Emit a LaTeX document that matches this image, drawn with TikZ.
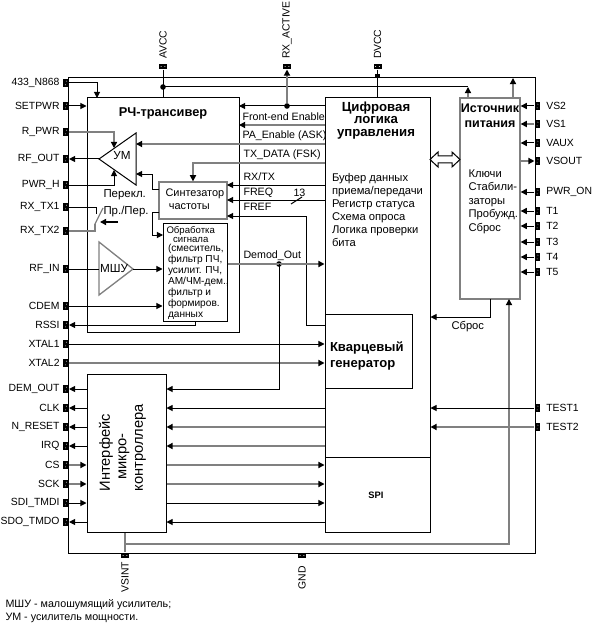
\documentclass[tikz,border=0pt]{standalone}
\usepackage{fontspec}
\setmainfont{Liberation Sans}
\usetikzlibrary{positioning, arrows.meta, calc}
\definecolor{figink}{HTML}{000000}
\definecolor{figgrey}{HTML}{808080}

\begin{document}
\begin{tikzpicture}[
  x=0.75pt, y=-0.75pt,
  line width=0.75pt, line join=miter,
  >={Triangle[length=4.6pt,width=4.6pt,color=figink]},
  sz/.style 2 args = {minimum width=#1*0.75pt, minimum height=#2*0.75pt},
  blk/.style = {draw=figink, inner sep=0pt, anchor=center},
  blkg/.style = {draw=figgrey, line width=1pt, inner sep=0pt, anchor=center},
  wgr/.style = {draw=figgrey, line width=1pt},
  dot/.style = {circle, fill=figink, inner sep=0pt, minimum size=4.2pt},
  pinh/.style = {fill=figink, inner sep=0pt, minimum width=3.8pt, minimum height=6pt,
                 path picture={\fill[white] ([xshift=.3pt,yshift=1.4pt]path picture bounding box.center) circle (.35pt)
                                            ([xshift=-.3pt,yshift=-1.4pt]path picture bounding box.center) circle (.35pt);}},
  pinv/.style = {fill=figink, inner sep=0pt, minimum width=6pt, minimum height=3.8pt,
                 path picture={\fill[white] ([xshift=1.4pt]path picture bounding box.center) circle (.35pt)
                                            ([xshift=-1.4pt]path picture bounding box.center) circle (.35pt);}},
  plab/.style = {font=\fontsize{7.8}{9}\selectfont, inner sep=0pt, text=figink},
  plabl/.style = {plab, xshift=-2.2pt},
  plabr/.style = {plab, xshift=4pt},
  vlab/.style = {plab, rotate=90},
  lbl/.style = {font=\fontsize{8}{9}\selectfont, inner sep=0pt, anchor=west},
  body/.style = {font=\fontsize{8.4}{9.75}\selectfont, inner sep=0pt, align=left, anchor=north west},
  small/.style = {font=\fontsize{7.6}{8.25}\selectfont, inner sep=0pt, align=left, anchor=north west},
  head/.style = {font=\fontsize{9}{10}\selectfont\bfseries, inner sep=0pt, align=center}
]
\useasboundingbox (0,0) rectangle (593,624);

% корпус и блоки
\node[blk, sz={467}{475}] (chip) at (301.5,315.5) {};
\node[blk, sz={152}{234}] (rf) at (163,215) {};
\node[blk, sz={105}{434}] (dig) at (377.5,315) {};
\node[blkg, sz={60}{201}] (pwr) at (490,198.5) {};
\node[blk, fill=white, sz={87}{74}] (xtal) at (368.5,351) {};
\node[blk, sz={105}{75}] (spi) at (377.5,494.5) {};
\node[blk, sz={79}{158}] (mcu) at (126.5,453) {};
\node[blkg, sz={68}{37}] (syn) at (193,200.5) {};
\node[blk, sz={64}{98}] (sig) at (195,272) {};

% выводы слева
\node[pinh, label={[plabl]left:433\_N868}] (p433) at (66,83) {};
\node[pinh, label={[plabl]left:SETPWR}] (pset) at (66,106) {};
\node[pinh, label={[plabl]left:R\_PWR}] (prp) at (66,132) {};
\node[pinh, label={[plabl]left:RF\_OUT}] (pro) at (66,159) {};
\node[pinh, label={[plabl]left:PWR\_H}] (pph) at (66,185) {};
\node[pinh, label={[plabl]left:RX\_TX1}] (ptx1) at (66,207) {};
\node[pinh, label={[plabl]left:RX\_TX2}] (ptx2) at (66,231) {};
\node[pinh, label={[plabl]left:RF\_IN}] (prf) at (66,269) {};
\node[pinh, label={[plabl]left:CDEM}] (pcd) at (66,306) {};
\node[pinh, label={[plabl]left:RSSI}] (prs) at (66,325) {};
\node[pinh, label={[plabl]left:XTAL1}] (pxt1) at (66,344) {};
\node[pinh, label={[plabl]left:XTAL2}] (pxt2) at (66,363) {};
\node[pinh, label={[plabl]left:DEM\_OUT}] (pdem) at (66,389) {};
\node[pinh, label={[plabl]left:CLK}] (pclk) at (66,408) {};
\node[pinh, label={[plabl]left:N\_RESET}] (pnr) at (66,427) {};
\node[pinh, label={[plabl]left:IRQ}] (pirq) at (66,446) {};
\node[pinh, label={[plabl]left:CS}] (pcs) at (66,465) {};
\node[pinh, label={[plabl]left:SCK}] (psck) at (66,484) {};
\node[pinh, label={[plabl]left:SDI\_TMDI}] (psdi) at (66,503) {};
\node[pinh, label={[plabl]left:SDO\_TMDO}] (psdo) at (66,522) {};

% выводы справа
\node[pinh, label={[plabr]right:VS2}] (pvs2) at (537.5,106) {};
\node[pinh, label={[plabr]right:VS1}] (pvs1) at (537.5,124) {};
\node[pinh, label={[plabr]right:VAUX}] (pvx) at (537.5,143) {};
\node[pinh, label={[plabr]right:VSOUT}] (pvo) at (537.5,161) {};
\node[pinh, label={[plabr]right:PWR\_ON}] (pon) at (537.5,192) {};
\node[pinh, label={[plabr]right:T1}] (pt1) at (537.5,211) {};
\node[pinh, label={[plabr]right:T2}] (pt2) at (537.5,226) {};
\node[pinh, label={[plabr]right:T3}] (pt3) at (537.5,242) {};
\node[pinh, label={[plabr]right:T4}] (pt4) at (537.5,257) {};
\node[pinh, label={[plabr]right:T5}] (pt5) at (537.5,272) {};
\node[pinh, label={[plabr]right:TEST1}] (pte1) at (537.5,408) {};
\node[pinh, label={[plabr]right:TEST2}] (pte2) at (537.5,427) {};

% выводы сверху и снизу
\node[pinv, label={[vlab, anchor=west, xshift=3pt]above:AVCC}] (pav) at (163,66.5) {};
\node[pinv, label={[vlab, anchor=west, xshift=3pt]above:RX\_ACTIVE}] (prx) at (287,66.5) {};
\node[pinv, label={[vlab, anchor=west, xshift=3pt]above:DVCC}] (pdv) at (377.5,66.5) {};
\node[pinv, label={[vlab, anchor=east, xshift=-2pt]below:VSINT}] (pvi) at (125,555.5) {};
\node[pinv, label={[vlab, anchor=east, xshift=-5.5pt]below:GND}] (pgn) at (302,555.5) {};

% точки привязки
\coordinate (pat) at (99,159);
\coordinate (pau) at (136,133);
\coordinate (pad) at (136,185);
\coordinate (pain) at (136,144);
\coordinate (pasy) at (136,174);
\coordinate (paup) at (114,148);
\coordinate (padn) at (114,170);
\coordinate (lnu) at (99,242);
\coordinate (lnd) at (99,295);
\coordinate (lnt) at (133,269);
\coordinate (rfa) at (97,98);
\coordinate (rfe) at (239,106);
\coordinate (rpa) at (239,125);
\coordinate (txb) at (193,163);
\coordinate (syf) at (227,185);
\coordinate (syq) at (227,200);
\coordinate (syr) at (227,216);
\coordinate (sig2) at (163,235);
\coordinate (syo1) at (159,189);
\coordinate (syo2) at (159,212);
\coordinate (xb) at (306,325);
\coordinate (avj) at (468,87);
\coordinate (chj) at (513,78);
\coordinate (pwa) at (468,98);
\coordinate (pwc) at (513,98);
\coordinate (pwb) at (509,299);
\coordinate (pwr2) at (490,299);
\coordinate (sbr) at (490,317);
\coordinate (vsj) at (125,544);
\coordinate (rss) at (195,321);
\coordinate (rsb) at (195,325);
\coordinate (sw1) at (96,214);
\coordinate (sw2) at (95,224);
\coordinate (swt) at (103,208);
\coordinate (swa) at (118,222);
\coordinate (swb) at (100,222);

% усилители
\draw[draw=figink] (pat) -- (pau) -- (pad) -- cycle;
\draw[wgr] (lnu) -- (lnt) -- (lnd) -- cycle;

% узлы
\node[dot] (dav) at (163,87) {};
\node[dot] (dfe) at (287,106) {};
\node[dot] (ddm) at (279,264) {};
\node[fill=figink, inner sep=0pt, minimum size=3.6pt] (ddv) at (377.5,76) {};

% питание
\draw (pav.south) -- (rf.north);
\draw (dav.center) -- (avj);
\draw[->, wgr] (pwa) -- (avj);
\draw[->, wgr] (pwc) -- (chj);
\draw (pdv.south) -- (dig.north);
\draw[wgr] (pvi.north) -- (mcu.south -| pvi);
\draw[->, wgr] (vsj) -| (pwb);

% входы РЧ-трансивера
\draw[->] (p433.east) -| (rfa);
\draw[->] (pset.east) -- (pset.east -| rf.west);
\draw[->, wgr] (prp.east) -| (paup);
\draw[->] (pat) -- (pro.east);
\draw[->] (pph.east) -| (padn);
\draw (ptx1.east) -| (sw1);
\draw[wgr] (ptx2.east) -| (sw2);
\draw[wgr] (sw2) -- (swt);
\draw[->, line width=1.2pt] (swa) -- (swb);
\draw (prf.east) -- (lnu |- prf);
\draw[->] (lnt) -- (lnt -| sig.west);
\draw[->] (pcd.east) -- (pcd.east -| sig.west);
\draw[->] (rss) -- (rsb) -- (prs.east);
\draw[->] (pxt1.east) -- (pxt1.east -| xtal.west);
\draw[->, wgr] (pxt2.east) -- (pxt2.east -| xtal.west);

% шины логики
\draw[->] (dig.west |- rfe) -- (rfe);
\draw[->, wgr] (dfe) -- (prx.south);
\draw[->, wgr] (dig.west |- rpa) -- (rpa);
\draw[->, wgr] (dig.west |- pain) -- (pain);
\draw[->, wgr] (dig.west |- txb) -- (txb) -- (syn.north);
\draw[->] (dig.west |- syf) -- (syf);
\draw[->] (dig.west |- syq) -- (syq);
\draw (291,204) -- (302,197);
\draw[->] (xtal.west |- xb) -- (xb) |- (syr);
\draw[->] (syo1) -- (152,189) -- (152,174) -- (pasy);
\draw[->] (syo2) -- (152,212) -- (152,235) -- (sig2);
\draw[->, wgr] (sig.east |- ddm) -- (dig.west |- ddm);
\draw[->] (ddm.center) |- (mcu.east |- pdem);

% интерфейс
\draw[->] (mcu.west |- pdem) -- (pdem.east);
\draw[->] (mcu.west |- pclk) -- (pclk.east);
\draw[->] (mcu.west |- pnr) -- (pnr.east);
\draw[->] (mcu.west |- pirq) -- (pirq.east);
\draw[->, wgr] (pcs.east) -- (pcs.east -| mcu.west);
\draw[->, wgr] (psck.east) -- (psck.east -| mcu.west);
\draw[->] (psdi.east) -- (psdi.east -| mcu.west);
\draw[->] (mcu.west |- psdo) -- (psdo.east);
\draw[->] (dig.west |- pclk) -- (mcu.east |- pclk);
\draw[->, wgr] (dig.west |- pnr) -- (mcu.east |- pnr);
\draw[->, wgr] (dig.west |- pirq) -- (mcu.east |- pirq);
\draw[->, wgr] (mcu.east |- pcs) -- (dig.west |- pcs);
\draw[->, wgr] (mcu.east |- psck) -- (dig.west |- psck);
\draw[->] (mcu.east |- psdi) -- (dig.west |- psdi);
\draw[->] (dig.west |- psdo) -- (mcu.east |- psdo);

% источник питания
\draw[->] (pvs2.west) -- (pvs2.west -| pwr.east);
\draw[->, wgr] (pvs1.west) -- (pvs1.west -| pwr.east);
\draw[->] (pvx.west) -- (pvx.west -| pwr.east);
\draw[->, wgr] (pvo.west -| pwr.east) -- (pvo.west);
\draw[->] (pon.west) -- (pon.west -| pwr.east);
\draw[->] (pt1.west) -- (pt1.west -| pwr.east);
\draw[->] (pt2.west) -- (pt2.west -| pwr.east);
\draw[->] (pt3.west) -- (pt3.west -| pwr.east);
\draw[->] (pt4.west) -- (pt4.west -| pwr.east);
\draw[->] (pt5.west) -- (pt5.west -| pwr.east);
\draw[->] (pwr2) -- (sbr) -- (dig.east |- sbr);
\draw[->] (pte1.west) -- (dig.east |- pte1);
\draw[->, wgr] (pte2.west) -- (dig.east |- pte2);
\draw[draw=figink, fill=white] (430,159.5) -- (438,152) -- (438,156) -- (452,156) -- (452,152) -- (460,159.5)
  -- (452,167) -- (452,163) -- (438,163) -- (438,167) -- cycle;

% подписи блоков
\node[head, font=\fontsize{9.6}{11}\selectfont\bfseries] (trf) at (163,113) {РЧ-трансивер};
\node[head, font=\fontsize{9.9}{9.2}\selectfont\bfseries] (tdig) at (376,120.5) {Цифровая\\логика\\управления};
\node[head, font=\fontsize{9.4}{11.2}\selectfont\bfseries] (tpwr) at (490,115.5) {Источник\\питания};
\node[head, font=\fontsize{9.8}{12}\selectfont\bfseries, align=left, anchor=west] (txt) at (329.5,356) {Кварцевый\\генератор};
\node[head, font=\fontsize{7}{8}\selectfont\bfseries] (tspi) at (376,495) {SPI};
\node[head, font=\fontsize{11}{12.4}\selectfont, align=left, rotate=90, anchor=west] (tmcu) at (122.5,492) {Интерфейс\\\hspace*{9pt}микро-\\контроллера};
\node[body] (tbuf) at (331.5,172.5) {Буфер данных\\приема/передачи\\Регистр статуса\\Схема опроса\\Логика проверки\\бита};
\node[body, font=\fontsize{8.4}{10.1}\selectfont] (tkey) at (468,169) {Ключи\\Стабили-\\заторы\\Пробужд.\\Сброс};
\node[body, font=\fontsize{8.6}{12.5}\selectfont] (tsw) at (103,189) {Перекл.\\Пр./Пер.};
\node[body, font=\fontsize{8.2}{9.8}\selectfont] (tsyn) at (165,188.5) {Синтезатор\\\hspace*{2.5pt}частоты};
\node[small, font=\fontsize{7.2}{6.5}\selectfont] (tsig1) at (166,226) {Обработка\\\hspace*{5pt}сигнала};
\node[small] (tsig3) at (167.5,244) {(смеситель,\\фильтр ПЧ,\\усилит. ПЧ,\\АМ/ЧМ-дем.,\\фильтр и\\формиров.\\данных};
\node[lbl, font=\fontsize{8.8}{10}\selectfont, anchor=center] (tpa) at (122,156) {УМ};
\node[lbl, font=\fontsize{8.8}{10}\selectfont, anchor=center] (tln) at (114,269) {МШУ};

% подписи связей
\node[lbl] (lfe) at (242,117) {Front-end Enable};
\node[lbl] (lpa) at (242,136) {PA\_Enable (ASK)};
\node[lbl] (ltx) at (243,155) {TX\_DATA (FSK)};
\node[lbl] (lrx) at (243,177) {RX/TX};
\node[lbl] (lfq) at (243,193) {FREQ};
\node[lbl] (lfr) at (243,207) {FREF};
\node[lbl] (l13) at (293,193) {13};
\node[lbl] (ldm) at (243,256) {Demod\_Out};
\node[body, anchor=west] (lsb) at (451,327) {Сброс};
\node[body, font=\fontsize{8.05}{9.75}\selectfont, anchor=west] (lnote) at (5,611.5) {МШУ - малошумящий усилитель;\\УМ - усилитель мощности.};

\end{tikzpicture}
\end{document}
